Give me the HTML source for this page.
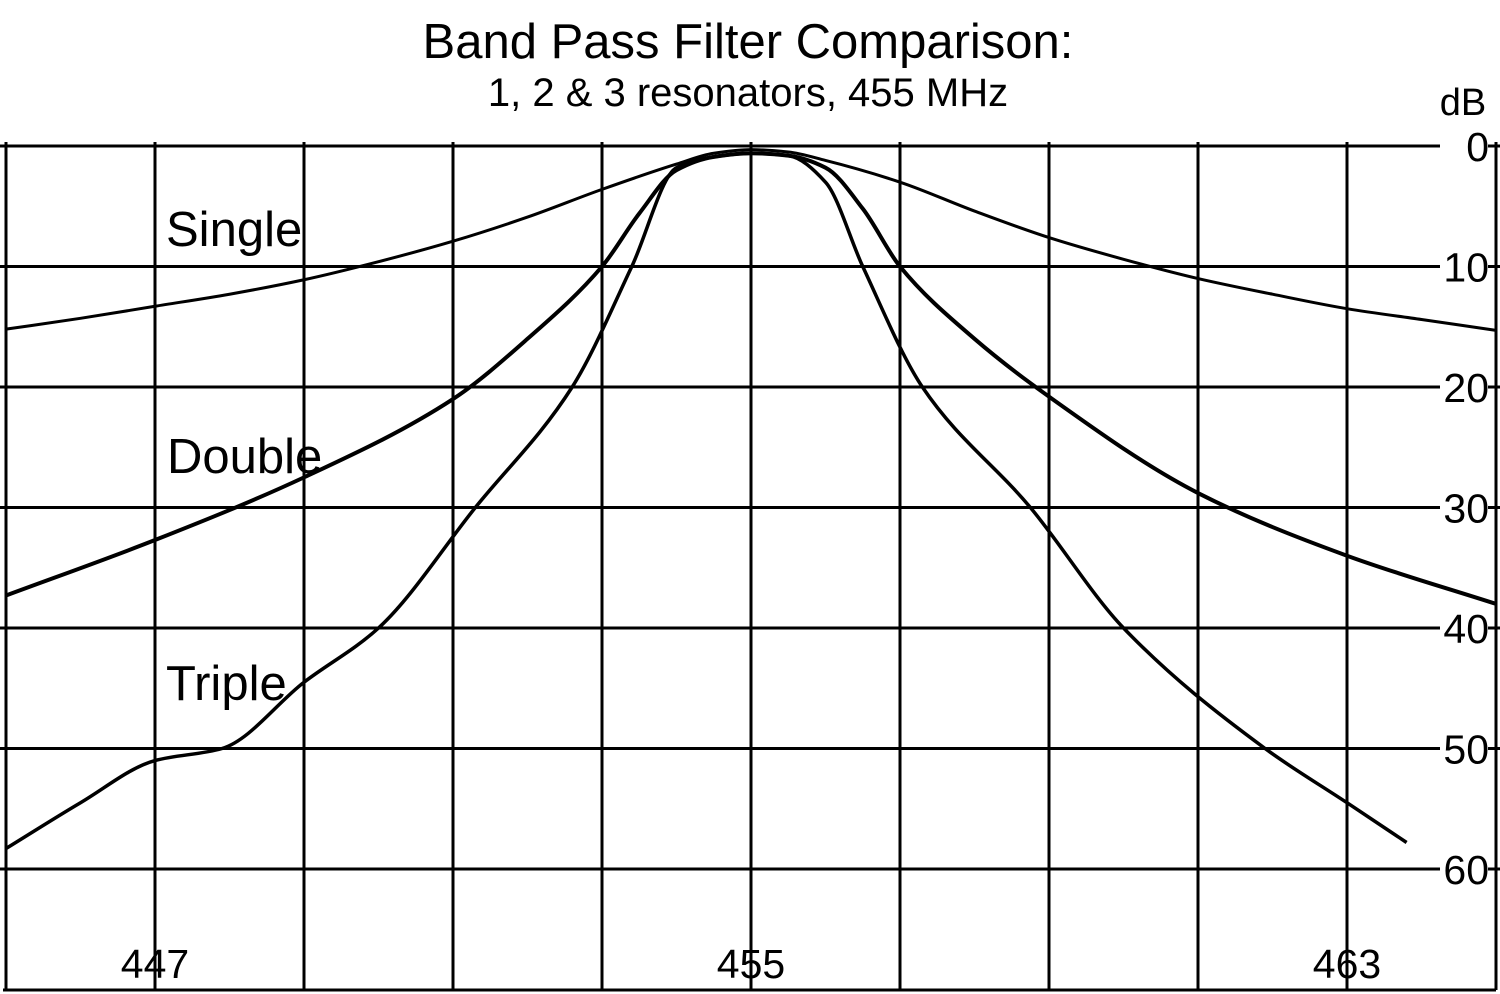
<!DOCTYPE html>
<html><head><meta charset="utf-8"><style>
html,body{margin:0;padding:0;background:#fff;}
svg{display:block;font-family:"Liberation Sans",Arial,sans-serif;}
</style></head><body>
<svg id="chart" width="1500" height="994" viewBox="0 0 1500 994">
<text x="748" y="58" font-size="49" text-anchor="middle">Band Pass Filter Comparison:</text>
<text x="748" y="106" font-size="40" text-anchor="middle">1, 2 &amp; 3 resonators, 455 MHz</text>
<text x="1463" y="115" font-size="38" text-anchor="middle">dB</text>
<g id="grid"></g>
<g id="series"></g>
<g id="labels"></g>
<text x="166" y="246" font-size="49">Single</text>
<text x="167" y="473" font-size="49">Double</text>
<text x="166" y="700" font-size="49">Triple</text>
</svg>
<script>
const xTicks = [445,447,449,451,453,455,457,459,461,463,465];
const xLabels = [447,455,463];
const yTicks = [0,10,20,30,40,50,60];
const singleF = [445,446,447,448,449,450,451,452,453,454,454.5,455,455.5,456,457,458,459,460,461,462,463,464,465];
const singleDb = [15.2,14.3,13.3,12.3,11.1,9.6,7.9,5.9,3.6,1.5,0.6,0.3,0.5,1.2,3.0,5.4,7.6,9.4,11.0,12.3,13.5,14.4,15.3];
const doubleF = [445,447,449,451,452,453,453.5,454,454.5,455,455.5,456,456.5,457,458,459,461,463,465];
const doubleDb = [37.3,32.7,27.5,21,16,10,5.6,2,0.9,0.6,0.8,1.8,5.2,10,16,20.8,28.8,34,38];
const tripleF = [445,446,447,447.9,449,450,451.3,452.6,453.4,454,454.5,455,455.5,456,456.5,457.3,458.75,460,461.9,463,463.8];
const tripleDb = [58.3,54.5,51,50,44.5,40,30,20,10,1.8,0.9,0.6,0.8,3,10,20,30,40,50,54.5,57.8];

const NS='http://www.w3.org/2000/svg';
const X = f => 751 + (f-455)*74.5;
const Y = d => 146 + d*12.05;
function mk(tag, attrs, parent){const e=document.createElementNS(NS,tag);for(const k in attrs)e.setAttribute(k,attrs[k]);parent.appendChild(e);return e;}
const grid=document.getElementById('grid'), ser=document.getElementById('series'), lab=document.getElementById('labels');
xTicks.forEach(f=>{
  const l=mk('line',{x1:X(f),x2:X(f),y1:142,y2:990,stroke:'#000','stroke-width':3},grid);
  
  
});
mk('line',{x1:3,x2:1496,y1:990,y2:990,stroke:'#000','stroke-width':3},grid);
yTicks.forEach(d=>{
  const l=mk('line',{x1:0,x2:1440,y1:Y(d),y2:Y(d),stroke:'#000','stroke-width':3},grid);
  
  
  mk('line',{x1:1488,x2:1500,y1:Y(d),y2:Y(d),stroke:'#000','stroke-width':3},grid);
  const t=mk('text',{x:1489,y:Y(d)+15,'font-size':41,'text-anchor':'end'},lab);
  t.textContent=d;
  
  
});
xLabels.forEach(f=>{
  const t=mk('text',{x:X(f),y:978,'font-size':41,'text-anchor':'middle'},lab);
  t.textContent=f;
  
  
});
// monotone cubic (Fritsch-Carlson) interpolation in frequency
function path(fs,ds){
  const n=fs.length, h=[], s=[], m=new Array(n);
  for(let i=0;i<n-1;i++){h[i]=fs[i+1]-fs[i];s[i]=(ds[i+1]-ds[i])/h[i];}
  m[0]=s[0]; m[n-1]=s[n-2];
  for(let i=1;i<n-1;i++){
    if(s[i-1]*s[i]<=0) m[i]=0;
    else {const w1=2*h[i]+h[i-1], w2=h[i]+2*h[i-1]; m[i]=(w1+w2)/(w1/s[i-1]+w2/s[i]);}
  }
  let p='M'+X(fs[0])+','+Y(ds[0]);
  for(let i=0;i<n-1;i++){
    const f1=fs[i]+h[i]/3, f2=fs[i+1]-h[i]/3;
    const d1=ds[i]+m[i]*h[i]/3, d2=ds[i+1]-m[i+1]*h[i]/3;
    p+=' C'+X(f1)+','+Y(d1)+' '+X(f2)+','+Y(d2)+' '+X(fs[i+1])+','+Y(ds[i+1]);
  }
  return p;
}
[['single',singleF,singleDb,3],['double',doubleF,doubleDb,4],['triple',tripleF,tripleDb,3.5]].forEach(([n,f,d,w])=>{
  const e=mk('path',{d:path(f,d),fill:'none',stroke:'#000','stroke-width':w},ser);
  
  
});
</script>
</body></html>
